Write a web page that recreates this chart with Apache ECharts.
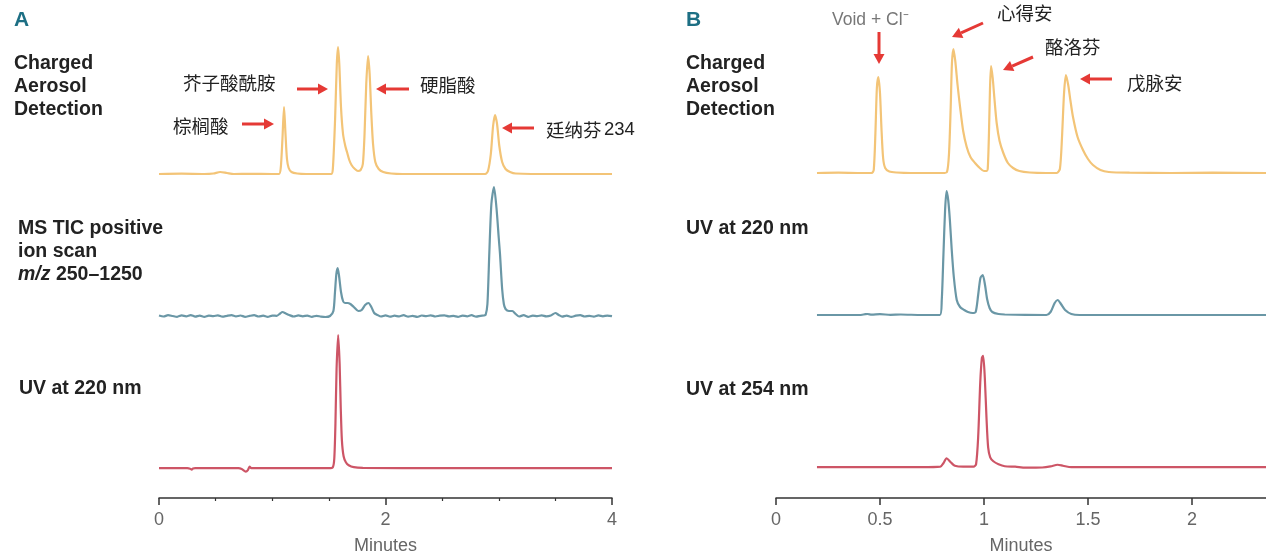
<!DOCTYPE html>
<html>
<head>
<meta charset="utf-8">
<script src="https://cdn.jsdelivr.net/npm/echarts@6/dist/echarts.min.js"></script>
<style>
  html, body { margin: 0; padding: 0; background: #fff; }
  #chart { width: 1266px; height: 556px; }
</style>
</head>
<body>
<div id="chart"></div>
<script>
// Panel A, time in minutes, response (arbitrary units above baseline)
const cadA = [
  [0, 0], [0.2, 0.3], [0.4, 0], [0.48, 0.5], [0.54, 2], [0.6, 1], [0.66, 0], [0.8, 0.2], [1.0, 0],
  [1.06, 0], [1.075, 6], [1.09, 35], [1.104, 67], [1.117, 40], [1.13, 15], [1.145, 6], [1.17, 2], [1.22, 0.5], [1.3, 0],
  [1.52, 0], [1.535, 5], [1.555, 55], [1.57, 110], [1.581, 127], [1.592, 110], [1.607, 67], [1.625, 40], [1.645, 28],
  [1.66, 22], [1.68, 14], [1.7, 9], [1.73, 5], [1.757, 3], [1.78, 4], [1.8, 10], [1.815, 40], [1.83, 90], [1.846, 118],
  [1.86, 100], [1.875, 60], [1.89, 30], [1.91, 12], [1.94, 5], [1.98, 2], [2.05, 0.5], [2.15, 0],
  [2.5, 0], [2.88, 0], [2.905, 3], [2.93, 20], [2.95, 48], [2.967, 59], [2.985, 50], [3.005, 28], [3.03, 12],
  [3.06, 5], [3.1, 2], [3.15, 0.5], [3.5, 0], [4.0, 0]
];
const msA = [
  [0, 0.5], [0.04, -0.5], [0.08, 0.8], [0.12, 0], [0.16, -0.8], [0.2, 0.6], [0.24, -0.3], [0.28, 0.9], [0.32, -0.6],
  [0.36, 0.4], [0.4, -0.9], [0.44, 0.3], [0.48, -0.2], [0.52, 0.7], [0.56, -0.7], [0.6, 0.2], [0.64, 0.9], [0.68, -0.4],
  [0.72, 0.5], [0.76, -0.8], [0.8, 0.1], [0.84, 0.8], [0.88, -0.5], [0.92, 0.3], [0.96, -0.9], [1.0, 0.4], [1.04, 0.2],
  [1.07, 2.5], [1.09, 4], [1.12, 2.5], [1.15, 1], [1.19, -0.5], [1.23, 0.6], [1.27, -0.3], [1.31, 0.4], [1.35, -0.8],
  [1.39, 0.2], [1.43, -0.6], [1.47, -1], [1.51, 0], [1.54, 5], [1.554, 24], [1.566, 42], [1.578, 48], [1.59, 40],
  [1.607, 24], [1.625, 15], [1.642, 13], [1.665, 13], [1.69, 12], [1.72, 9], [1.76, 5], [1.79, 6], [1.82, 11],
  [1.85, 13], [1.875, 9], [1.9, 3], [1.93, 1],
  [1.96, -0.5], [2.0, 0.6], [2.04, -0.7], [2.08, 0.3], [2.12, -0.4], [2.16, 0.8], [2.2, -0.6], [2.24, 0.2], [2.28, -0.9],
  [2.32, 0.5], [2.36, -0.2], [2.4, 0.7], [2.44, -0.5], [2.48, 0.3], [2.52, 0.6], [2.56, -0.4], [2.6, 0.1], [2.64, -0.8],
  [2.68, 0.4], [2.72, -0.3], [2.76, 0.8], [2.8, -0.6], [2.84, 0.2], [2.87, 0.5], [2.884, 1], [2.9, 12], [2.917, 64],
  [2.935, 112], [2.958, 129], [2.98, 108], [3.0, 78], [3.011, 62], [3.03, 27], [3.045, 12], [3.06, 7], [3.09, 5],
  [3.12, 5], [3.15, 2], [3.18, -0.5], [3.22, 0.8],
  [3.26, -0.8], [3.3, 0.4], [3.34, -0.2], [3.38, 0.7], [3.42, -0.4], [3.46, 0.5], [3.5, 3], [3.53, 1], [3.56, -0.6],
  [3.6, 0.4], [3.64, -0.9], [3.68, 0.3], [3.72, 0.8], [3.76, -0.5], [3.8, 0.2], [3.84, -0.7], [3.88, 0.6], [3.92, -0.3],
  [3.96, 0.4], [4.0, -0.2]
];
const uvA = [
  [0, 0], [0.25, 0], [0.275, -0.5], [0.289, -1.5], [0.3, -0.3], [0.32, 0], [0.7, 0], [0.73, -0.8], [0.766, -3.5],
  [0.785, -2], [0.8, 1.5], [0.815, 0], [1.0, 0], [1.5, 0], [1.535, 1], [1.548, 10], [1.558, 45], [1.568, 100],
  [1.582, 134], [1.595, 105], [1.605, 60], [1.615, 28], [1.63, 12], [1.65, 6], [1.675, 3], [1.72, 1], [1.8, 0.3],
  [2.5, 0], [4.0, 0]
];

// Panel B
const cadB = [
  [0.197, 0], [0.3, 0.3], [0.4, 0], [0.46, 0], [0.47, 3], [0.478, 40], [0.485, 85], [0.492, 96], [0.5, 80],
  [0.507, 45], [0.515, 15], [0.525, 5], [0.545, 1.5], [0.58, 0.5], [0.65, 0],
  [0.8, 0], [0.822, 1], [0.832, 20], [0.84, 66], [0.846, 110], [0.853, 124], [0.862, 112], [0.873, 88], [0.885, 66],
  [0.9, 42], [0.917, 26], [0.935, 16], [0.957, 10], [0.98, 5], [1.0, 2], [1.012, 2],
  [1.018, 4], [1.024, 40], [1.029, 85], [1.034, 107], [1.042, 95], [1.05, 75], [1.061, 50], [1.075, 32], [1.093, 20],
  [1.115, 10], [1.14, 5], [1.17, 2], [1.22, 0.5], [1.3, 0],
  [1.35, 0], [1.365, 4], [1.375, 35], [1.385, 80], [1.394, 98], [1.405, 88], [1.416, 72], [1.428, 56], [1.45, 36],
  [1.476, 23], [1.5, 14], [1.524, 8], [1.56, 3], [1.6, 1], [1.7, 0.3], [1.9, 0], [2.1, 0.3], [2.356, 0]
];
const uv220B = [
  [0.197, 0], [0.4, 0], [0.43, 0.8], [0.44, 1], [0.46, 0.3], [0.5, 0.8], [0.55, 0.2], [0.6, 0.5], [0.7, 0],
  [0.788, 0], [0.797, 15], [0.805, 60], [0.813, 105], [0.82, 124], [0.828, 115], [0.836, 95], [0.845, 65], [0.855, 38],
  [0.869, 15], [0.885, 8], [0.905, 5], [0.923, 3], [0.945, 2], [0.96, 3], [0.972, 20], [0.983, 37], [0.994, 40],
  [1.005, 30], [1.015, 16], [1.027, 7], [1.04, 3], [1.07, 1], [1.1, 0.5], [1.3, 0], [1.32, 3], [1.34, 12],
  [1.354, 15], [1.37, 11], [1.39, 5], [1.42, 1], [1.46, 0], [2.356, 0]
];
const uv254B = [
  [0.197, 0], [0.7, 0], [0.79, 0.5], [0.805, 4], [0.82, 9], [0.84, 5], [0.86, 1.5], [0.9, 0.5], [0.95, 0.5],
  [0.962, 3], [0.972, 30], [0.982, 85], [0.99, 110], [0.996, 112], [1.004, 90], [1.012, 50], [1.02, 20], [1.03, 10],
  [1.045, 6], [1.07, 3], [1.1, 1], [1.15, 0.5], [1.2, -0.5], [1.28, -0.3], [1.32, 0.8], [1.354, 2.5], [1.38, 1.5],
  [1.42, 0], [2.356, 0]
];

const ticksA = [0, 2, 4];
const ticksB = [0, 0.5, 1, 1.5, 2];

const COLOR_CAD = '#F3C477';
const COLOR_MS = '#6A97A6';
const COLOR_UV = '#CD5566';
const LABEL_FONT = '"Liberation Sans", Arial, sans-serif';
const CJK_FONT = '"Noto Sans CJK SC", "Liberation Sans", sans-serif';

const myChart = echarts.init(document.getElementById('chart'));

// one grid per trace; 1 y unit = 1 px so traces keep their relative heights
const traces = [
  { data: cadA, color: COLOR_CAD, left: 159, width: 453, top: 44, height: 133, min: -3, max: 130, xmax: 4 },
  { data: msA, color: COLOR_MS, left: 159, width: 453, top: 184, height: 136, min: -4, max: 132, xmax: 4 },
  { data: uvA, color: COLOR_UV, left: 159, width: 453, top: 332, height: 167, min: -30, max: 137, xmax: 4, axis: 'A' },
  { data: cadB, color: COLOR_CAD, left: 776, width: 490, top: 45, height: 131, min: -3, max: 128, xmax: 2.356 },
  { data: uv220B, color: COLOR_MS, left: 776, width: 490, top: 187, height: 131, min: -3, max: 128, xmax: 2.356 },
  { data: uv254B, color: COLOR_UV, left: 776, width: 490, top: 351, height: 148, min: -31, max: 117, xmax: 2.356, axis: 'B' }
];

const grid = traces.map(t => ({ left: t.left, width: t.width, top: t.top, height: t.height }));

const xAxis = traces.map((t, i) => {
  const base = { gridIndex: i, type: 'value', min: 0, max: t.xmax, splitLine: { show: false } };
  if (!t.axis) return Object.assign(base, { show: false });
  const ticks = t.axis === 'A' ? ticksA : ticksB;
  return Object.assign(base, {
    axisLine: { onZero: false, lineStyle: { color: '#333', width: 1.5 } },
    axisTick: { length: 7, customValues: ticks, lineStyle: { color: '#333', width: 1.5 } },
    minorTick: { show: t.axis === 'A', splitNumber: 4, length: 3, lineStyle: { color: '#333', width: 1.2 } },
    axisLabel: {
      customValues: ticks, color: '#666', fontSize: 18, margin: 13, fontFamily: LABEL_FONT,
      formatter: v => String(v)
    },
    interval: t.axis === 'A' ? 2 : 0.5,
    name: 'Minutes',
    nameLocation: 'middle',
    nameGap: 39,
    nameTextStyle: { color: '#666', fontSize: 18, fontFamily: LABEL_FONT }
  });
});

const yAxis = traces.map((t, i) => ({ gridIndex: i, type: 'value', min: t.min, max: t.max, show: false }));

const series = traces.map((t, i) => ({
  type: 'line',
  xAxisIndex: i,
  yAxisIndex: i,
  data: t.data,
  showSymbol: false,
  smooth: 0.25,
  clip: false,
  silent: true,
  lineStyle: { color: t.color, width: 2.2 }
}));

function txt(x, y, text, opts) {
  opts = opts || {};
  return {
    type: 'text', x: x, y: y, silent: true,
    style: Object.assign({
      text: text, fill: '#222', verticalAlign: 'middle',
      font: (opts.bold ? 'bold ' : '') + (opts.size || 18) + 'px ' + (opts.family || LABEL_FONT)
    }, opts.style || {})
  };
}

function arrow(x1, y1, x2, y2) {
  const a = Math.atan2(y2 - y1, x2 - x1);
  const L = 10, W = 5.5;
  const bx = x2 - L * Math.cos(a), by = y2 - L * Math.sin(a);
  const px = -Math.sin(a), py = Math.cos(a);
  return {
    type: 'group', silent: true,
    children: [
      { type: 'line', shape: { x1: x1, y1: y1, x2: bx, y2: by }, style: { stroke: '#E53935', lineWidth: 3 } },
      { type: 'polygon', shape: { points: [[x2, y2], [bx + W * px, by + W * py], [bx - W * px, by - W * py]] },
        style: { fill: '#E53935' } }
    ]
  };
}

const B = { bold: true, size: 19.5 };
const graphic = [
  txt(14, 20, 'A', { bold: true, size: 21, style: { fill: '#1D6F84' } }),
  txt(14, 64, 'Charged', B),
  txt(14, 87, 'Aerosol', B),
  txt(14, 110, 'Detection', B),
  txt(18, 229, 'MS TIC positive', B),
  txt(18, 252, 'ion scan', B),
  {
    type: 'text', x: 18, y: 275, silent: true,
    style: {
      text: '{i|m/z} 250–1250', fill: '#222', verticalAlign: 'middle',
      font: 'bold 19.5px ' + LABEL_FONT,
      rich: { i: { fontStyle: 'italic', fontWeight: 'bold', fontSize: 19.5, fontFamily: LABEL_FONT, fill: '#222' } }
    }
  },
  txt(19, 389, 'UV at 220 nm', B),

  txt(183, 83, '芥子酸酰胺', { family: CJK_FONT, size: 18.5 }),
  arrow(297, 89, 328, 89),
  txt(420, 85, '硬脂酸', { family: CJK_FONT, size: 18.5 }),
  arrow(409, 89, 376, 89),
  txt(173, 126, '棕榈酸', { family: CJK_FONT, size: 18.5 }),
  arrow(242, 124, 274, 124),
  txt(546, 130, '廷纳芬', { family: CJK_FONT, size: 18.5 }),
  txt(604, 130, '234', { size: 18.5 }),
  arrow(534, 128, 502, 128),

  txt(686, 20, 'B', { bold: true, size: 21, style: { fill: '#1D6F84' } }),
  txt(686, 64, 'Charged', B),
  txt(686, 87, 'Aerosol', B),
  txt(686, 110, 'Detection', B),
  txt(686, 229, 'UV at 220 nm', B),
  txt(686, 390, 'UV at 254 nm', B),

  txt(832, 20, 'Void + Cl⁻', { size: 17.5, style: { fill: '#777' } }),
  arrow(879, 32, 879, 64),
  txt(997, 13, '心得安', { family: CJK_FONT, size: 18.5 }),
  arrow(983, 23, 952, 37),
  txt(1045, 47, '酪洛芬', { family: CJK_FONT, size: 18.5 }),
  arrow(1033, 57, 1003, 70),
  txt(1127, 83, '戊脉安', { family: CJK_FONT, size: 18.5 }),
  arrow(1112, 79, 1080, 79)
];

const option = {
  animation: false,
  backgroundColor: '#fff',
  grid: grid,
  xAxis: xAxis,
  yAxis: yAxis,
  series: series,
  graphic: graphic
};

myChart.setOption(option);
</script>
</body>
</html>
